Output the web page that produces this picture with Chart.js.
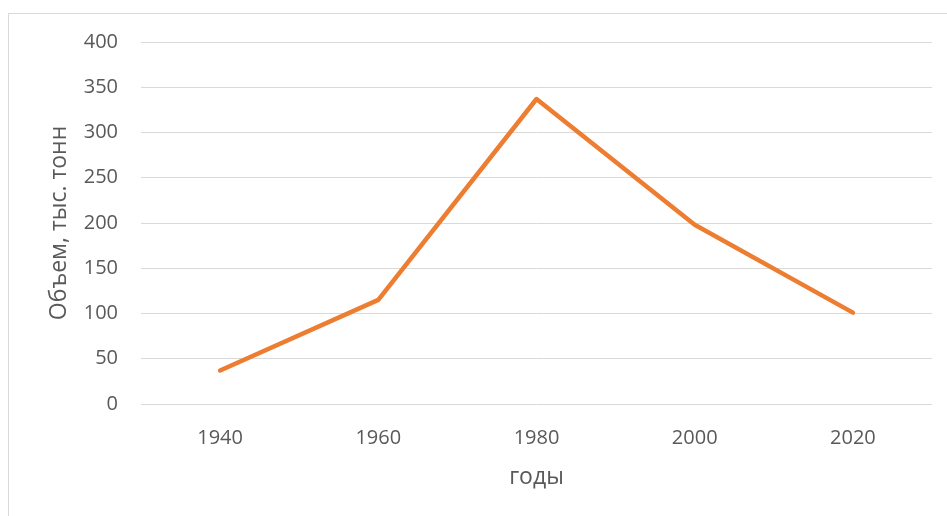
<!DOCTYPE html>
<html>
<head>
<meta charset="utf-8">
<script src="https://cdn.jsdelivr.net/npm/chart.js@4"></script>
<style>
    html, body { margin: 0; padding: 0; background: #fff; }
    #wrap { width: 947px; height: 516px; }
</style>
</head>
<body>
<div id="wrap"><canvas id="line-chart"></canvas></div>
<script>
const years = ["1940", "1960", "1980", "2000", "2020"];
const volumes = [37, 115, 337, 198, 101];
const yTicks = [0, 50, 100, 150, 200, 250, 300, 350, 400];

const frame = {
    id: "frame",
    beforeDraw(chart) {
        const ctx = chart.ctx;
        ctx.save();
        ctx.fillStyle = "#fff";
        ctx.fillRect(0, 0, chart.width, chart.height);
        ctx.strokeStyle = "#d9d9d9";
        ctx.lineWidth = 1;
        ctx.strokeRect(8.5, 13.5, chart.width + 20, chart.height + 20);
        ctx.restore();
    },
};

const config = {
    type: "line",
    data: {
        labels: years,
        datasets: [
            {
                label: "Объем",
                data: volumes,
                borderColor: "#ED7D31",
                backgroundColor: "#ED7D31",
                borderWidth: 4.5,
                borderCapStyle: "round",
                borderJoinStyle: "round",
                pointRadius: 0,
                tension: 0,
            },
        ],
    },
    options: {
        animation: false,
        responsive: true,
        maintainAspectRatio: false,
        layout: {
            padding: { left: 0, right: 15, top: 42, bottom: 0 },
        },
        scales: {
            x: {
                offset: true,
                grid: { display: false },
                border: { display: false },
                ticks: {
                    color: "#595959",
                    font: { family: "Open Sans", size: 20 },
                    padding: 14,
                },
                title: {
                    display: true,
                    text: "годы",
                    color: "#595959",
                    font: { family: "Open Sans", size: 23 },
                    padding: { top: 0, bottom: 25 },
                },
                afterFit(scale) {
                    scale.height = 516 - 404;
                },
            },
            y: {
                min: 0,
                max: 400,
                afterBuildTicks(scale) {
                    scale.ticks = yTicks.map((v) => ({ value: v }));
                },
                grid: {
                    color: "#d9d9d9",
                    lineWidth: 1,
                    drawTicks: false,
                },
                border: { display: false },
                ticks: {
                    color: "#595959",
                    font: { family: "Open Sans", size: 20 },
                    padding: 23,
                },
                title: {
                    display: true,
                    text: "Объем, тыс. тонн",
                    color: "#595959",
                    font: { family: "Open Sans", size: 23 },
                    padding: { top: 46, bottom: 0 },
                },
                afterFit(scale) {
                    scale.width = 141;
                },
            },
        },
        plugins: {
            legend: { display: false },
            tooltip: { enabled: false },
        },
    },
    plugins: [frame],
};

window.addEventListener("DOMContentLoaded", () => {
    new Chart(document.getElementById("line-chart"), config);
});
</script>
</body>
</html>
